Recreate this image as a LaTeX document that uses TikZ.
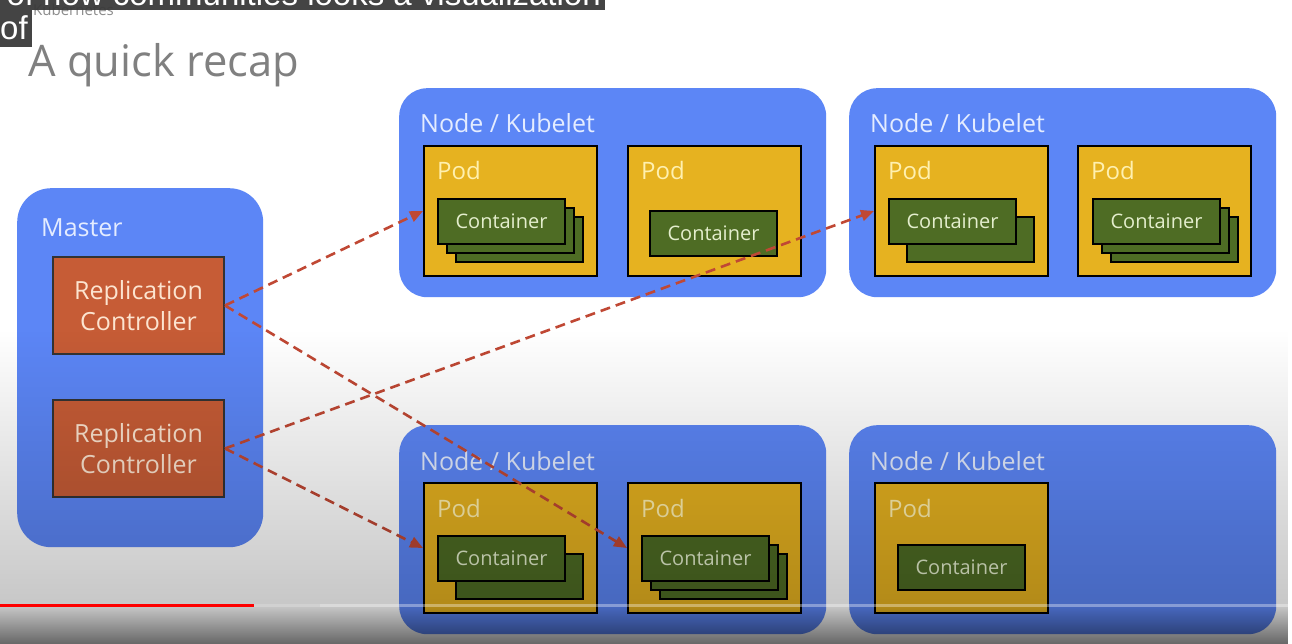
\documentclass[tikz,border=0pt]{standalone}
\usepackage{fontspec}
\setmainfont{Open Sans}
\newfontfamily\capfont{Liberation Sans}
\usetikzlibrary{arrows.meta,fadings}

\definecolor{kubeblue}{RGB}{92,134,246}
\definecolor{podyellow}{RGB}{230,178,32}
\definecolor{ctrgreen}{RGB}{78,108,36}
\definecolor{rcred}{RGB}{198,92,54}
\definecolor{linkred}{RGB}{192,72,52}
\definecolor{labeltext}{RGB}{228,236,255}
\definecolor{podtext}{RGB}{255,240,175}
\definecolor{ctrtext}{RGB}{228,238,205}
\definecolor{rctext}{RGB}{252,228,208}
\definecolor{captionbg}{RGB}{58,58,58}

\tikzfading[name=fadeA, top color=transparent!100, bottom color=transparent!78]
\tikzfading[name=fadeB, top color=transparent!78, bottom color=transparent!40]

\tikzset{
  box/.style={fill=kubeblue, rounded corners=28pt, anchor=north west, inner sep=0pt},
  pod/.style={draw=black, line width=2pt, fill=podyellow, anchor=north west,
    minimum width=173pt, minimum height=130pt, inner sep=0pt},
  ctr/.style={draw=black, line width=2pt, fill=ctrgreen, anchor=north west,
    minimum width=127pt, minimum height=45pt, inner sep=0pt,
    text=ctrtext, font=\fontsize{20}{20}\selectfont},
  rc/.style={draw=black!80, line width=2pt, fill=rcred, anchor=north west,
    minimum width=171pt, minimum height=97pt, inner sep=0pt, align=center,
    text=rctext, font=\fontsize{25}{31}\selectfont},
  boxlabel/.style={anchor=base west, inner sep=0pt, text=labeltext, font=\fontsize{25}{25}\selectfont},
  podlabel/.style={anchor=base west, inner sep=0pt, text=podtext, font=\fontsize{24}{24}\selectfont},
  link/.style={draw=linkred, line width=2.6pt, dash pattern=on 10pt off 6pt,
    -{Triangle[length=13pt,width=11pt]}},
}

% name, x, y, offsets of the copies behind
\newcommand\CtrStack[4]{
  \foreach \d in {#4} {\node[ctr] at ({#2+\d},{#3+\d}) {};}
  \node[ctr] (#1) at (#2,#3) {Container};
}

\begin{document}
\begin{tikzpicture}[x=1pt,y=-1pt]
  \clip (0,0) rectangle (1292,644);
  \fill[white] (0,0) rectangle (1292,644);

  % title
  \node[anchor=base west, inner sep=0pt, text=black!45, font=\fontsize{15}{15}\selectfont] (deck) at (33,16) {Kubernetes};
  \node[anchor=base west, inner sep=0pt, text=black!50, font=\fontsize{43.5}{43.5}\selectfont] (title) at (28,77) {A quick recap};

  % master
  \node[box, rounded corners=34pt, minimum width=246pt, minimum height=359pt] (master) at (17,188) {};
  \node[boxlabel] (masterlabel) at (41,237) {Master};
  \node[rc] (rcA) at (52,256) {Replication\\Controller};
  \node[rc] (rcB) at (52,399) {Replication\\Controller};

  % nodes
  \foreach \name/\x/\y in {kubeA/399/88, kubeB/849/88, kubeC/399/425, kubeD/849/425} {
    \node[box, minimum width=427pt, minimum height=209pt] (\name) at (\x,\y) {};
    \node[boxlabel] at (\x+21,\y+45) {Node / Kubelet};
  }

  % pods
  \foreach \name/\x/\y in {podA1/423/145, podA2/627/145, podB1/874/145, podB2/1077/145,
                           podC1/423/482, podC2/627/482, podD1/874/482} {
    \node[pod] (\name) at (\x,\y) {};
    \node[podlabel] at (\x+14,\y+35) {Pod};
  }

  % containers
  \CtrStack{ctrA1}{437}{198}{18,9}
  \node[ctr] (ctrA2) at (649,210) {Container};
  \CtrStack{ctrB1}{888}{198}{18}
  \CtrStack{ctrB2}{1092}{198}{18,9}
  \CtrStack{ctrC1}{437}{535}{18}
  \CtrStack{ctrC2}{641}{535}{18,9}
  \node[ctr] (ctrD1) at (897,544) {Container};

  % replication links
  \draw[link] (rcA.east) -- (podA1.west);
  \draw[link] (rcA.east) -- (podC2.west);
  \draw[link] (rcB.east) -- (podB1.west);
  \draw[link] (rcB.east) -- (podC1.west);

  % player overlay
  \fill[black, path fading=fadeA] (0,330) rectangle (1292,606);
  \fill[black, path fading=fadeB] (0,606) rectangle (1292,644);
  \fill[white, opacity=0.35] (320,603.5) rectangle (1292,606.5);
  \fill[white!82!black] (254,603.5) rectangle (320,606.5);
  \fill[red] (0,603.5) rectangle (254,606.5);

  % caption
  \fill[captionbg, opacity=0.95] (0,0) rectangle (605,10);
  \fill[captionbg, opacity=0.95] (0,10) rectangle (32,47);
  \node[anchor=base east, inner sep=0pt, text=white, font=\capfont\fontsize{33}{33}\selectfont] (capA) at (601,6) {of how communities looks a visualization};
  \node[anchor=base west, inner sep=0pt, text=white, font=\capfont\fontsize{33}{33}\selectfont] (capB) at (0,40) {of};
\end{tikzpicture}
\end{document}
